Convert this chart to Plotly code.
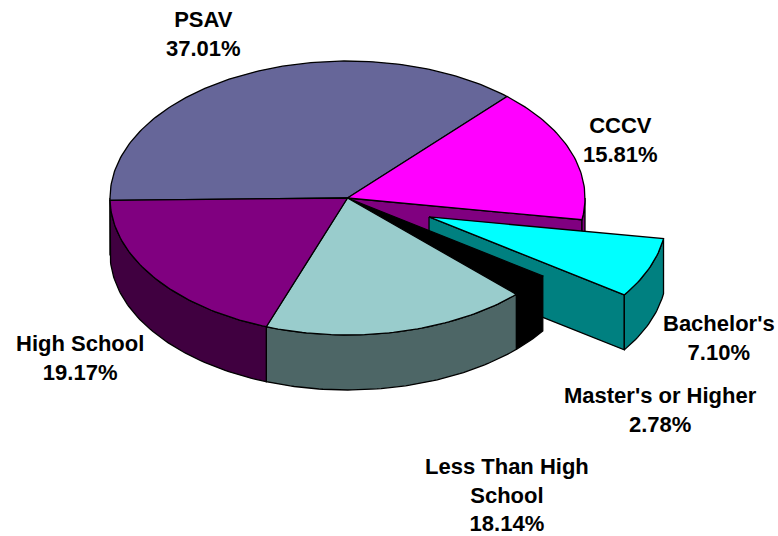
import math
import plotly.graph_objects as go

labels = ["PSAV", "CCCV", "Bachelor's", "Master's or Higher", "Less Than High<br>School", "High School"]
values = [37.01, 15.81, 7.10, 2.78, 18.14, 19.17]
top_colors = ["#666699", "#FF00FF", "#00FFFF", "#000000", "#99CCCC", "#800080"]
side_colors = ["#333366", "#800080", "#008080", "#000000", "#4D6666", "#400040"]
explode = [0, 0, 0.37, 0, 0, 0]
label_x = [203, 620, 719, 660, 507, 80]
label_y = [34, 140, 338, 410, 495, 358]

CX, CY, RX, RY, DEPTH = 347.5, 198, 237.5, 137, 55
START = 269.0
LINE = 1.3
total = sum(values)

# Slice angle spans, clockwise from the top of the pie
spans = []
a = START
for v in values:
    b = a + v / total * 360
    spans.append((a - 360, b - 360) if a >= 360 else (a, b))
    a = b


def pt(theta, off=(0, 0), drop=0):
    t = math.radians(theta)
    return (CX + off[0] + RX * math.sin(t), CY + off[1] - RY * math.cos(t) + drop)


def arc(a0, a1, off=(0, 0), drop=0, step=1.0):
    n = max(2, int(abs(a1 - a0) / step) + 1)
    return [pt(a0 + (a1 - a0) * i / (n - 1), off, drop) for i in range(n)]


def offset(i):
    mid = math.radians(sum(spans[i]) / 2)
    return (explode[i] * RX * math.sin(mid), -explode[i] * RY * math.cos(mid))


fig = go.Figure()


def poly(points, color, name):
    xs = [p[0] for p in points] + [points[0][0]]
    ys = [p[1] for p in points] + [points[0][1]]
    fig.add_trace(go.Scatter(x=xs, y=ys, mode="lines", fill="toself", fillcolor=color,
                             line=dict(color="#000000", width=LINE), hoverinfo="text",
                             text=name, showlegend=False))


def top(i):
    off = offset(i)
    c = (CX + off[0], CY + off[1])
    poly([c] + arc(*spans[i], off), top_colors[i], labels[i])


def outer_wall(i):
    off = offset(i)
    # only the front half of the rim (90..270 degrees) faces the viewer
    a0 = max(spans[i][0], 90)
    a1 = min(spans[i][1], 270)
    if a1 <= a0:
        return
    poly(arc(a0, a1, off) + arc(a1, a0, off, DEPTH), side_colors[i], labels[i])


def end_wall(i, theta):
    off = offset(i)
    c = (CX + off[0], CY + off[1])
    poly([c, pt(theta, off), pt(theta, off, DEPTH), (c[0], c[1] + DEPTH)], side_colors[i], labels[i])


# Back of the pie: PSAV and CCCV, with the wall left open by the pulled slice
outer_wall(0)
top(0)
end_wall(1, spans[1][1])
outer_wall(1)
top(1)
# Pulled slice
end_wall(2, spans[2][1])
outer_wall(2)
top(2)
# Front of the pie
for i in (3, 4, 5):
    outer_wall(i)
    top(i)

annotations = []
for name, v, x, y in zip(labels, values, label_x, label_y):
    annotations.append(dict(x=x, y=y, xref="x", yref="y", showarrow=False,
                            text=f"<b>{name}<br>{v:.2f}%</b>", align="center",
                            bgcolor="#FFFFFF", borderpad=0,
                            font=dict(family="Liberation Sans, Arial, sans-serif", size=22, color="#000000")))

fig.update_layout(width=778, height=536, margin=dict(l=0, r=0, t=0, b=0),
                  paper_bgcolor="#FFFFFF", plot_bgcolor="#FFFFFF", showlegend=False,
                  annotations=annotations,
                  xaxis=dict(range=[0, 778], visible=False, fixedrange=True),
                  yaxis=dict(range=[536, 0], visible=False, fixedrange=True))
fig.write_html("out.html", config={"displayModeBar": False},
               post_script="document.body.style.margin='0';document.documentElement.style.overflow='hidden';")
